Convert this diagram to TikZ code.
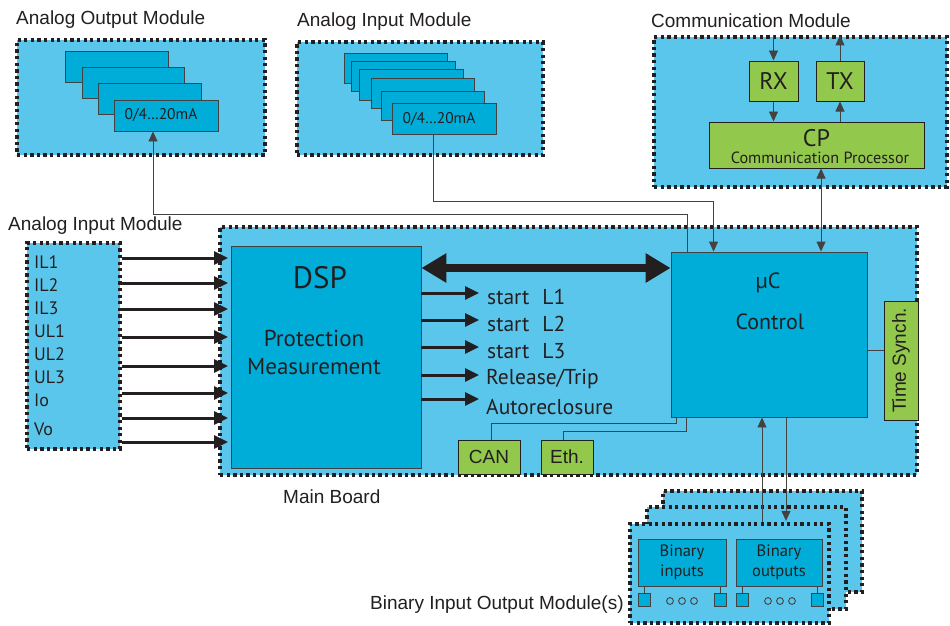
\documentclass[tikz,border=0pt]{standalone}
\usepackage{fontspec}
\setmainfont{Liberation Sans}
\newfontfamily\my{PT Sans}
\usetikzlibrary{arrows.meta,calc}
\definecolor{lb}{RGB}{91,198,235}
\definecolor{cb}{RGB}{0,173,216}
\definecolor{gr}{RGB}{146,200,75}
\definecolor{dk}{RGB}{35,31,32}
\newcommand\fsz[2]{\fontsize{#1}{#2}\selectfont}
\begin{document}
\begin{tikzpicture}[x=1pt,y=-1pt,
 frame/.style={fill=lb, draw=dk, line width=3.3pt, dash pattern=on 3.3pt off 3.3pt, inner sep=0pt},
 card/.style={fill=cb, draw=dk!85, line width=0.9pt, inner sep=0pt},
 gbox/.style={fill=gr, draw=dk, line width=1pt, inner sep=0pt},
 thin/.style={draw=dk!85, line width=0.9pt},
 thinarr/.style={thin, -{Triangle[length=10pt,width=9pt]}},
 thinboth/.style={thin, {Triangle[length=10pt,width=9pt]}-{Triangle[length=10pt,width=9pt]}},
 bold/.style={draw=dk, line width=3pt, -{Triangle[length=14pt,width=13pt]}},
 lbl/.style={text=dk, inner sep=0pt, font=\fsz{19}{22}},
 mtxt/.style={text=dk, inner sep=0pt, font=\my\fsz{21.5}{24}},
]
\useasboundingbox (0,0) rectangle (950,625);
\fill[white] (0,0) rectangle (950,625);

% ---------- Analog Output Module ----------
\node[lbl, anchor=west] (aomL) at (16,20) {Analog Output Module};
\node[frame, minimum width=248, minimum height=115] (aom) at (141,97.5) {};
\node[card, minimum width=103, minimum height=31] (ao1) at (116.5,66.5) {};
\node[card, minimum width=102, minimum height=31] (ao2) at (133,82.5) {};
\node[card, minimum width=103, minimum height=31] (ao3) at (149.5,98.5) {};
\node[card, minimum width=104, minimum height=31] (ao4) at (166,115.5) {};
\node[mtxt, font=\my\fsz{15.5}{18}] (ao4t) at ($(ao4)+(-5,0)$) {0/4…20mA};

% ---------- Analog Input Module (top) ----------
\node[lbl, anchor=west] (aimL) at (297,22) {Analog Input Module};
\node[frame, minimum width=246, minimum height=113] (aim) at (420,98.5) {};
\node[card, minimum width=103, minimum height=30] (ai1) at (395.5,68) {};
\node[card, minimum width=104, minimum height=30] (ai2) at (403,76) {};
\node[card, minimum width=104, minimum height=31] (ai3) at (411,84.5) {};
\node[card, minimum width=103, minimum height=30] (ai4) at (422.5,93) {};
\node[card, minimum width=103, minimum height=29] (ai5) at (432.5,105.5) {};
\node[card, minimum width=104, minimum height=31] (ai6) at (444,118.5) {};
\node[mtxt, font=\my\fsz{15.5}{18}] (ai6t) at ($(ai6)+(-5,1)$) {0/4…20mA};

% ---------- Communication Module ----------
\node[lbl, anchor=west] (comL) at (651,21) {Communication Module};
\node[frame, minimum width=293, minimum height=150] (com) at (800.5,112) {};
\node[gbox, minimum width=49, minimum height=40] (rx) at (773.5,81) {};
\node[mtxt, font=\my\fsz{24}{26}] at (rx) {RX};
\node[gbox, minimum width=48, minimum height=40] (tx) at (840,81) {};
\node[mtxt, font=\my\fsz{24}{26}] at (tx) {TX};
\node[gbox, minimum width=215, minimum height=46] (cp) at (816.5,145) {};
\node[mtxt, font=\my\fsz{24}{26}] (cpt) at (816.5,138) {CP};
\node[mtxt, font=\my\fsz{16.2}{18}] (cpt2) at (820,158) {Communication Processor};
\draw[thinarr] (rx.north |- com.north) -- (rx.north);
\draw[thinarr] (rx.south) -- (rx.south |- cp.north);
\draw[thinarr] (tx.south |- cp.north) -- (tx.south);
\draw[thinarr] (tx.north) -- (tx.north |- com.north);

% ---------- Left Analog Input Module ----------
\node[lbl, anchor=west] (laimL) at (8,226) {Analog Input Module};
\node[frame, minimum width=93, minimum height=206] (lai) at (73.5,346) {};
\foreach \t/\y in {IL1/262, IL2/285, IL3/308, UL1/331, UL2/354, UL3/377, Io/400, Vo/429}
  \node[mtxt, font=\my\fsz{18}{20}, anchor=west] at (34,\y) {\t};

% ---------- Main Board ----------
\node[frame, minimum width=697, minimum height=248] (mb) at (568.5,351) {};
\node[lbl, anchor=west] (mbL) at (283,497) {Main Board};
\node[card, minimum width=190, minimum height=222] (dsp) at (326,357) {};
\node[mtxt, font=\my\fsz{31}{34}] at (320,278) {DSP};
\node[mtxt, font=\my\fsz{23}{28}, align=center] at (314,352) {Protection\\Measurement};
\node[card, minimum width=196, minimum height=165] (uc) at (769,334.5) {};
\node[mtxt, font=\my\fsz{22}{24}] at (768,283) {µC};
\node[mtxt, font=\my\fsz{22}{24}] at (770,322) {Control};
\node[gbox, minimum width=34, minimum height=119] (ts) at (901,360.5) {};
\node[lbl, rotate=90] at (ts) {Time Synch.};
\node[gbox, minimum width=62, minimum height=34] (can) at (489,457) {};
\node[lbl] at (can) {CAN};
\node[gbox, minimum width=52, minimum height=34] (eth) at (567,457) {};
\node[lbl] at (eth) {Eth.};

% DSP <-> uC
\coordinate (dy) at (0,268);
\draw[draw=dk, line width=8pt, {Triangle[length=25pt,width=28pt]}-{Triangle[length=25pt,width=28pt]}] (dsp.east |- dy) -- (uc.west |- dy);

% DSP outputs
\foreach \i/\y in {1/293, 2/320, 3/347, 4/375, 5/399}{
  \coordinate (o\i) at (479,\y);
  \draw[bold] (dsp.east |- o\i) -- (o\i);
}
\node[mtxt, anchor=west] at (487,297) {start\hspace{13pt}L1};
\node[mtxt, anchor=west] at (487,324) {start\hspace{13pt}L2};
\node[mtxt, anchor=west] at (487,351) {start\hspace{13pt}L3};
\node[mtxt, anchor=west] at (486,379) {Release/Trip};
\node[mtxt, anchor=west] at (486,407) {Autoreclosure};

% left inputs
\foreach \i/\y in {1/258, 2/283, 3/309, 4/337, 5/366, 6/393, 7/418, 8/442}{
  \coordinate (in\i) at (228,\y);
  \draw[bold] (lai.east |- in\i) -- (in\i);
}

% uC to Time Synch
\coordinate (tsy) at (0,350);
\draw[thin] (uc.east |- tsy) -- (ts.west |- tsy);

% CAN / Eth
\draw[thin] ($(can.north)+(2,0)$) -- ++(0,-16) -| ($(uc.south west)+(6,0)$);
\draw[thin] ($(eth.north)+(-4,0)$) -- ++(0,-8) -| ($(uc.south west)+(16,0)$);

% analog module links
\draw[thinarr] ($(ai6.south)+(-11,0)$) -- ++(0,67) -| ($(uc.north west)+(43,0)$);
\draw[thinarr] ($(uc.north west)+(17,0)$) -- ++(0,-37) -| ($(ao4.south)+(-13,0)$);
\coordinate (xcp) at (821,0);
\draw[thinboth] (cp.south -| xcp) -- (uc.north -| xcp);

% ---------- Binary Input Output Modules ----------
\node[frame, minimum width=199, minimum height=101] (bb) at (762.5,541.5) {};
\node[frame, minimum width=199, minimum height=102] (bm) at (746.5,558) {};
\node[frame, minimum width=199, minimum height=99] (bf) at (729.5,573.5) {};
\node[lbl, anchor=west] (bL) at (370,605) {Binary Input Output Module(s)};
\node[card, minimum width=88, minimum height=47] (bi) at (682,562.5) {};
\node[mtxt, font=\my\fsz{16.5}{20}, align=center] at (bi) {Binary\\inputs};
\node[card, minimum width=86, minimum height=47] (bo) at (779,562.5) {};
\node[mtxt, font=\my\fsz{16.5}{20}, align=center] at (bo) {Binary\\outputs};
\foreach \n/\x in {1/644, 2/720}{
  \node[card, minimum width=12, minimum height=13] (si\n) at (\x,599.5) {};
  \draw[thin] (si\n.north) -- (si\n.north |- bi.south);
}
\foreach \n/\x in {1/742, 2/817}{
  \node[card, minimum width=12, minimum height=13] (so\n) at (\x,599.5) {};
  \draw[thin] (so\n.north) -- (so\n.north |- bo.south);
}
\foreach \x in {670,682,694,768,780,792}
  \draw[thin] (\x,601) circle (3.4);
\coordinate (bx1) at (762,0);
\coordinate (bx2) at (786,0);
\draw[thinarr] (bf.north -| bx1) -- (uc.south -| bx1);
\draw[thinarr, shorten >=1.5pt] (uc.south -| bx2) -- (bf.north -| bx2);
\end{tikzpicture}
\end{document}
